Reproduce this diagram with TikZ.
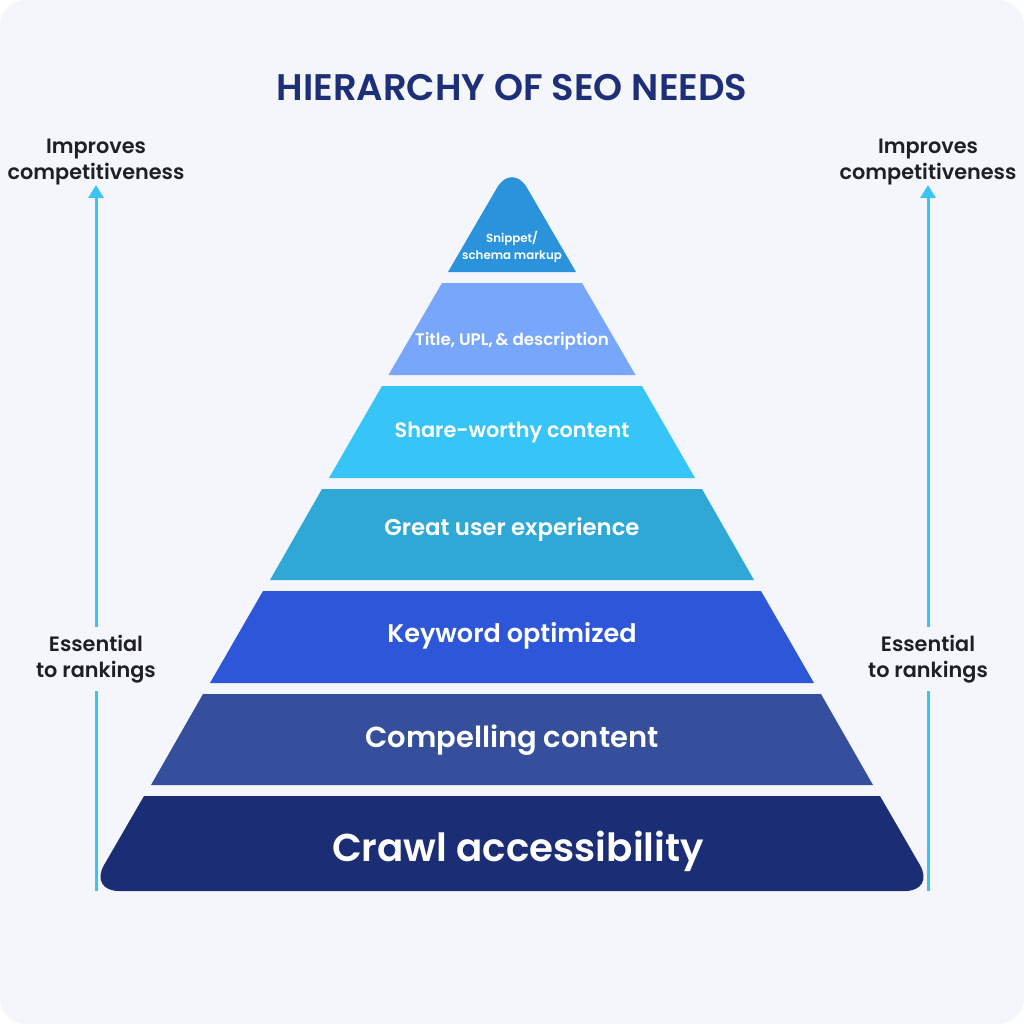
\documentclass[tikz,border=0pt]{standalone}
\usepackage{fontspec}
\setmainfont{Poppins}[BoldFont={Poppins SemiBold}]
\usepackage{tikz}
\usetikzlibrary{arrows.meta,positioning}
\definecolor{pagebg}{HTML}{F5F6FB}
\definecolor{titleblue}{HTML}{1D2F78}
\definecolor{inkdark}{HTML}{1F1F24}
\definecolor{arrowcyan}{HTML}{3AC4F2}
\definecolor{tierone}{HTML}{2B93DB}
\definecolor{tiertwo}{HTML}{78A6FA}
\definecolor{tierthree}{HTML}{37C4F7}
\definecolor{tierfour}{HTML}{2FA8D5}
\definecolor{tierfive}{HTML}{2D56D8}
\definecolor{tiersix}{HTML}{364F9C}
\definecolor{tierseven}{HTML}{1B2D75}
\tikzset{
  tierlabel/.style={text=white,align=center,inner sep=0pt,font=\bfseries},
  sidelabel/.style={text=inkdark,align=center,inner sep=0pt,
                    font=\fontsize{20.8}{26}\selectfont\bfseries},
  sidearr/.style={-{Triangle[length=13pt,width=15pt]},line width=3pt,
                  draw=arrowcyan},
  sideline/.style={line width=3pt,draw=arrowcyan}
}
\begin{document}
\begin{tikzpicture}[x=1pt,y=-1pt]
    \path[use as bounding box] (0,0) rectangle (1024,1024);
    \fill[white] (0,0) rectangle (1024,1024);
    \fill[pagebg,rounded corners=26pt] (0,0) rectangle (1024,1024);

    \node[text=titleblue,font=\fontsize{37}{44}\selectfont\bfseries]
      (title) at (512,88) {HIERARCHY OF SEO NEEDS};

    % pyramid tiers, bottom to top
    \fill[tierseven] (144,796) -- (880,796)
      [rounded corners=30pt] -- (935,891) -- (89,891) [sharp corners] -- cycle;
    \fill[tiersix] (203,694) -- (821,694) -- (873,785) -- (151,785) -- cycle;
    \fill[tierfive] (263,591) -- (761,591) -- (814,683) -- (210,683) -- cycle;
    \fill[tierfour] (322,489) -- (702,489) -- (754,580) -- (270,580) -- cycle;
    \fill[tierthree] (382,386) -- (642,386) -- (695,478) -- (329,478) -- cycle;
    \fill[tiertwo] (442,283) -- (582,283) -- (635.5,375) -- (388.5,375) -- cycle;
    \fill[tierone] (448,272) [rounded corners=30pt] -- (512,162)
      [sharp corners] -- (576,272) -- cycle;

    \node[tierlabel,font=\fontsize{38.8}{46}\selectfont\bfseries]
      (crawl) at (518,851) {Crawl accessibility};
    \node[tierlabel,font=\fontsize{29}{34}\selectfont\bfseries]
      (compelling) at (512,740) {Compelling content};
    \node[tierlabel,font=\fontsize{25.5}{30}\selectfont\bfseries]
      (keyword) at (512,636) {Keyword optimized};
    \node[tierlabel,font=\fontsize{22.8}{28}\selectfont\bfseries]
      (ux) at (512,530) {Great user experience};
    \node[tierlabel,font=\fontsize{20.8}{26}\selectfont\bfseries]
      (share) at (512,433) {Share-worthy content};
    \node[tierlabel,font=\fontsize{16.7}{20}\selectfont\bfseries]
      (meta) at (512,341) {Title, UPL,\,\& description};
    \node[tierlabel,font=\fontsize{11.8}{17}\selectfont\bfseries]
      (snippet) at (512,247) {Snippet/\\schema markup};

    % side arrows
    \node[sidelabel,anchor=south] (impL) at (96,185) {Improves\\competitiveness};
    \node[sidelabel,inner ysep=8pt] (essL) at (96,659) {Essential\\to rankings};
    \coordinate (baseL) at (96,891);
    \node[sidelabel,anchor=south] (impR) at (928,185) {Improves\\competitiveness};
    \node[sidelabel,inner ysep=8pt] (essR) at (928,659) {Essential\\to rankings};
    \coordinate (baseR) at (928,891);

    \draw[sideline] (baseL) -- (essL.south);
    \draw[sidearr] (essL.north) -- (impL.south);
    \draw[sideline] (baseR) -- (essR.south);
    \draw[sidearr] (essR.north) -- (impR.south);
  \end{tikzpicture}
\end{document}
